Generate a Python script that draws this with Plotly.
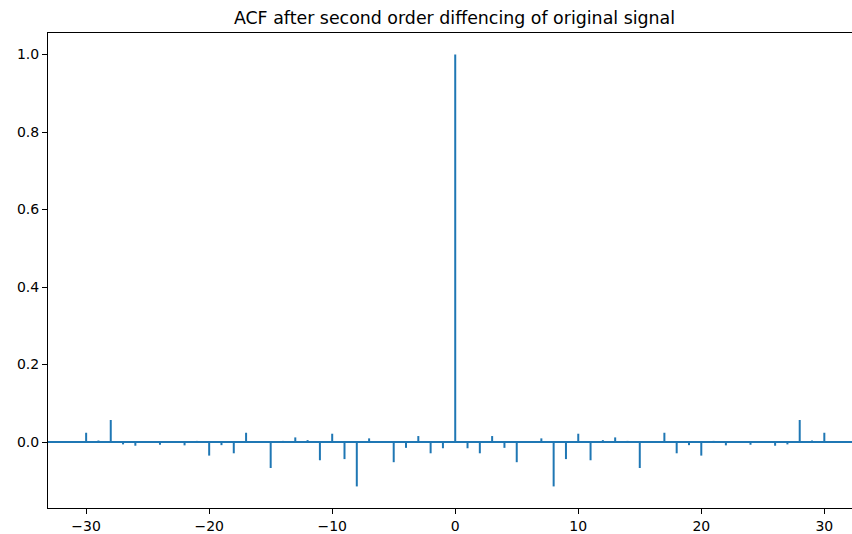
import plotly.graph_objects as go

lags = list(range(-30, 31))
acf_values = [
    0.024, 0.004, 0.057, -0.006, -0.0095, 0.0, -0.007, 0.002, -0.0085, 0.003,
    -0.035, -0.008, -0.029, 0.024, 0.001, -0.067, 0.003, 0.012, 0.005, -0.047,
    0.0215, -0.044, -0.1145, 0.0095, 0.001, -0.052, -0.015, 0.0155, -0.029, -0.016,
    1.0,
    -0.016, -0.029, 0.0155, -0.015, -0.052, 0.001, 0.0095, -0.1145, -0.044, 0.0215,
    -0.047, 0.005, 0.012, 0.003, -0.067, 0.001, 0.024, -0.029, -0.008, -0.035,
    0.003, -0.0085, 0.002, -0.007, 0.0, -0.0095, -0.006, 0.057, 0.004, 0.024,
]
x_ticks = [-30, -20, -10, 0, 10, 20, 30]
y_ticks = [0.0, 0.2, 0.4, 0.6, 0.8, 1.0]
title_text = "ACF after second order diffencing of original signal"

color = "#1f77b4"
xs, ys = [], []
for k, v in zip(lags, acf_values):
    xs += [k, k, None]
    ys += [0, v, None]

fig = go.Figure()
fig.add_trace(go.Scatter(x=xs, y=ys, mode="lines",
                         line=dict(color=color, width=2), hoverinfo="skip",
                         showlegend=False))
fig.add_trace(go.Scatter(x=[-40, 40], y=[0, 0], mode="lines",
                         line=dict(color=color, width=2), hoverinfo="skip",
                         showlegend=False))

fig.update_layout(
    width=852, height=534,
    margin=dict(l=48, r=0, t=33, b=26),
    plot_bgcolor="white", paper_bgcolor="white",
    font=dict(family="DejaVu Sans", size=14, color="black"),
    title=dict(text=title_text, x=454.5/852, xref="container", xanchor="center",
               y=1 - 18/534, yref="container", yanchor="middle",
               font=dict(size=17.4, color="black")),
    xaxis=dict(range=[-33.1, 32.25], tickvals=x_ticks, showgrid=False, zeroline=False,
               showline=True, linecolor="black", linewidth=1, mirror=True,
               ticks="outside", ticklen=5, tickcolor="black", tickwidth=1),
    yaxis=dict(range=[-0.1702, 1.0557], tickvals=y_ticks, tickformat=".1f",
               showgrid=False, zeroline=False,
               showline=True, linecolor="black", linewidth=1,
               ticks="outside", ticklen=5, tickcolor="black", tickwidth=1),
)

fig.write_html("out.html", config={"displayModeBar": False},
               post_script="document.body.style.margin='0';document.body.style.overflow='hidden';")
